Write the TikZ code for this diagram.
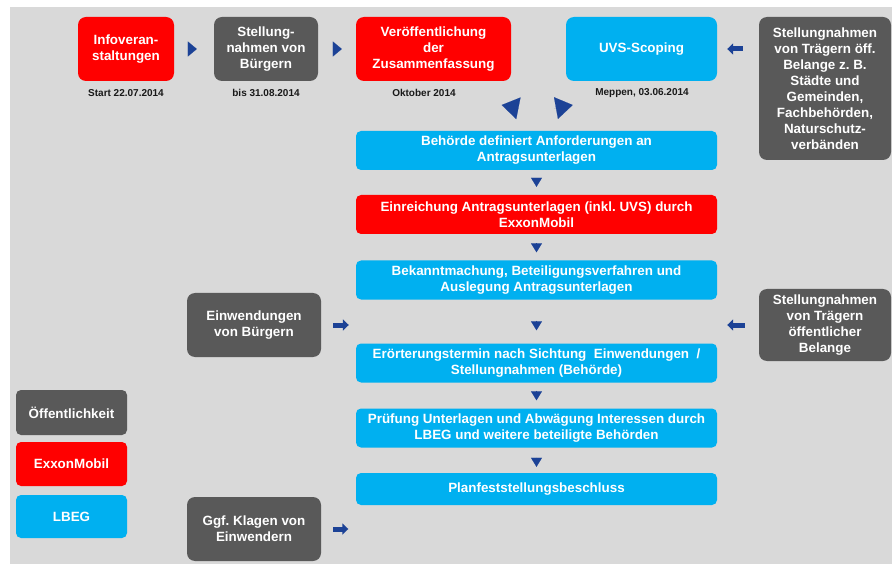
\documentclass[tikz,border=0pt]{standalone}
\usepackage{xcolor}
\usepackage{fontspec}
\setmainfont{Liberation Sans}
\usepackage{tikz}
\usetikzlibrary{arrows.meta}

\definecolor{exxonred}{RGB}{255,0,0}
\definecolor{boxgray}{RGB}{89,89,89}
\definecolor{lbegblue}{RGB}{0,176,240}
\definecolor{bggray}{RGB}{217,217,217}
\definecolor{arrblue}{RGB}{28,66,150}

\frenchspacing

\begin{document}
\begin{tikzpicture}[x=1pt, y=-1pt,
%
    box/.style={rounded corners=8pt, text=white, align=center, inner sep=0pt,
        font=\bfseries\fontsize{13.4}{16}\selectfont},
    exbox/.style={box, fill=exxonred},
    gybox/.style={box, fill=boxgray},
    blbox/.style={box, fill=lbegblue},
    flow/.style={blbox, rounded corners=5pt, minimum width=361pt, minimum height=39pt},
    legend/.style={rounded corners=5pt, minimum width=111pt},
    datum/.style={font=\bfseries\fontsize{10}{12}\selectfont, text=black!90, inner sep=0pt},
     Tri/.style={arrblue, line width=0.1pt, -{Triangle[length=9pt,width=15pt]}},
     TriD/.style={arrblue, line width=0.1pt, -{Triangle[length=9pt,width=11pt]}},
     Big/.style={arrblue, line width=0.1pt, -{Triangle[length=17pt,width=22pt]}},
     Blk/.style={arrblue, line width=5pt, -{Triangle[length=6pt,width=11pt]}},
                        ]
    \useasboundingbox (0,0) rectangle (892,564);
    \fill[bggray] (10,7) rectangle (892,564);

    % top row
    \node[exbox, minimum width=96pt, minimum height=64pt] (info) at (126,49) {Infoveran-\\staltungen};
    \node[gybox, minimum width=104pt, minimum height=64pt] (stellb) at (266,49) {Stellung-\\nahmen von\\Bürgern};
    \node[exbox, minimum width=155pt, minimum height=64pt] (veroeff) at (433.5,49) {Veröffentlichung\\der\\Zusammenfassung};
    \node[blbox, minimum width=151pt, minimum height=64pt] (uvs) at (641.5,49) {UVS-Scoping};
    \node[gybox, minimum width=132pt, minimum height=143pt] (stoeff) at (825,88.5) {Stellungnahmen\\von Trägern öff.\\Belange z. B.\\Städte und\\Gemeinden,\\Fachbehörden,\\Naturschutz-\\verbänden};

    \node[datum] (infodat) at (126,93) {Start 22.07.2014};
    \node[datum] (stellbdat) at (266,93) {bis 31.08.2014};
    \node[datum] (veroeffdat) at (424,93) {Oktober 2014};
    \node[datum] (uvsdat) at (642,93) {Meppen, 03.06.2014};

    % main column
    \node[flow] (behoerde) at (536.5,150.5) {Behörde definiert Anforderungen an\\Antragsunterlagen};
    \node[flow, fill=exxonred] (einreich) at (536.5,214.5) {Einreichung Antragsunterlagen (inkl. UVS) durch\\ExxonMobil};
    \node[flow] (bekannt) at (536.5,280) {Bekanntmachung, Beteiligungsverfahren und\\Auslegung Antragsunterlagen};
    \node[flow] (eroert) at (536.5,363) {Erörterungstermin nach Sichtung\ \ Einwendungen\ \ /\\Stellungnahmen (Behörde)};
    \node[flow] (pruef) at (536.5,428) {Prüfung Unterlagen und Abwägung Interessen durch\\LBEG und weitere beteiligte Behörden};
    \node[flow, minimum height=32pt] (plan) at (536.5,489) {Planfeststellungsbeschluss};

    % sides
    \node[gybox, minimum width=134pt, minimum height=64pt] (einw) at (254,325) {Einwendungen\\von Bürgern};
    \node[gybox, minimum width=132pt, minimum height=72pt] (sttraeger) at (825,325) {Stellungnahmen\\von Trägern\\öffentlicher\\Belange};
    \node[gybox, minimum width=134pt, minimum height=64pt] (klagen) at (254,529) {Ggf. Klagen von\\Einwendern};

    % legend
    \node[gybox, legend, minimum height=45pt] (legoeff) at (71.5,412.5) {Öffentlichkeit};
    \node[exbox, legend, minimum height=44pt] (legexxon) at (71.5,464) {ExxonMobil};
    \node[blbox, legend, minimum height=43pt] (leglbeg) at (71.5,516.5) {LBEG};

    \coordinate (bigLbase) at (518.5,108.3);
    \coordinate (bigLtip)  at (501.7,105);
    \coordinate (bigRbase) at (554.6,108.3);
    \coordinate (bigRtip)  at (572.7,105);

    \draw[Tri, shorten <=14pt, shorten >=17pt] (info) -- (stellb);
    \draw[Tri, shorten <=15pt, shorten >=14pt] (stellb) -- (veroeff);
    \draw[Blk, shorten <=16pt, shorten >=10pt] (stoeff.west |- uvs.east) -- (uvs.east);
    \draw[Big] (bigLbase) -- (bigLtip);
    \draw[Big] (bigRbase) -- (bigRtip);

    \draw[TriD, shorten <=8pt, shorten >=8pt] (behoerde) -- (einreich);
    \draw[TriD, shorten <=9pt, shorten >=8pt] (einreich) -- (bekannt);
    \draw[TriD, shorten <=21pt, shorten >=13pt] (bekannt) -- (eroert);
    \draw[TriD, shorten <=8pt, shorten >=8pt] (eroert) -- (pruef);
    \draw[TriD, shorten <=10pt, shorten >=6pt] (pruef) -- (plan);

    \draw[Blk, shorten <=12pt, shorten >=7pt] (einw.east) -- (bekannt.west |- einw.east);
    \draw[Blk, shorten <=14pt, shorten >=10pt] (sttraeger.west) -- (bekannt.east |- sttraeger.west);
    \draw[Blk, shorten <=12pt, shorten >=7.5pt] (klagen.east) -- (plan.west |- klagen.east);
    
\end{tikzpicture}
\end{document}
